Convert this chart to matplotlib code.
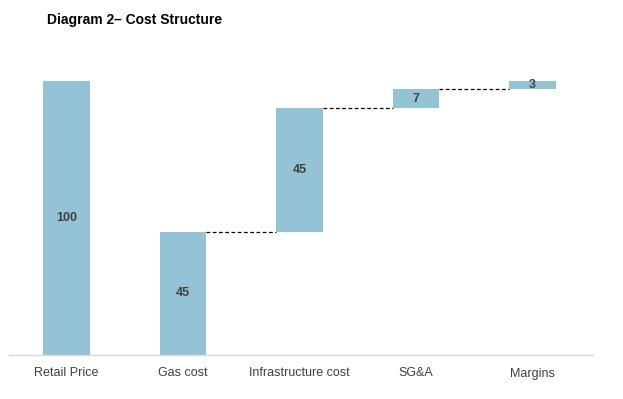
import numpy as np
import matplotlib.pyplot as plt

plt.rcParams['font.family'] = ['Liberation Sans', 'DejaVu Sans']

categories = ['Retail Price', 'Gas cost', 'Infrastructure cost', 'SG&A', 'Margins']
values = [100, 45, 45, 7, 3]
bottoms = [0, 0, 45, 90, 97]

bar_color = '#93c3d5'
text_color = '#404040'

W, H = 623, 399
fig = plt.figure(figsize=(W / 100, H / 100), dpi=100)
ax = fig.add_axes([9 / W, 1 - 355 / H, (593 - 9) / W, (355 - 81) / H])

x = np.arange(len(categories))
width = 0.4
rects = ax.bar(x, values, width, bottom=bottoms, color=bar_color, zorder=2)

# connector lines between floating bars
for i in range(1, len(categories) - 1):
    level = bottoms[i] + values[i]
    ax.plot([x[i] + width / 2, x[i + 1] - width / 2], [level, level],
            linestyle=(0, (3, 2)), color='black', linewidth=0.9, zorder=1)

for rect, v, b in zip(rects, values, bottoms):
    ax.text(rect.get_x() + rect.get_width() / 2, b + v / 2, f'{v}',
            ha='center', va='center', fontsize=9, fontweight='bold', color=text_color)

ax.set_xlim(-0.495, 4.52)
ax.set_ylim(0, 100)
ax.set_xticks(x)
ax.set_xticklabels(categories, fontsize=9, color=text_color)
ax.tick_params(axis='x', length=0, pad=9)
ax.set_yticks([])
for s in ['top', 'right', 'left']:
    ax.spines[s].set_visible(False)
ax.spines['bottom'].set_color('#d9d9d9')
ax.spines['bottom'].set_linewidth(1)

fig.text(47 / W, 1 - 20 / H, 'Diagram 2– Cost Structure', fontsize=10,
         fontweight='bold', ha='left', va='center', color='black')

fig.savefig('out.png', dpi=100)
